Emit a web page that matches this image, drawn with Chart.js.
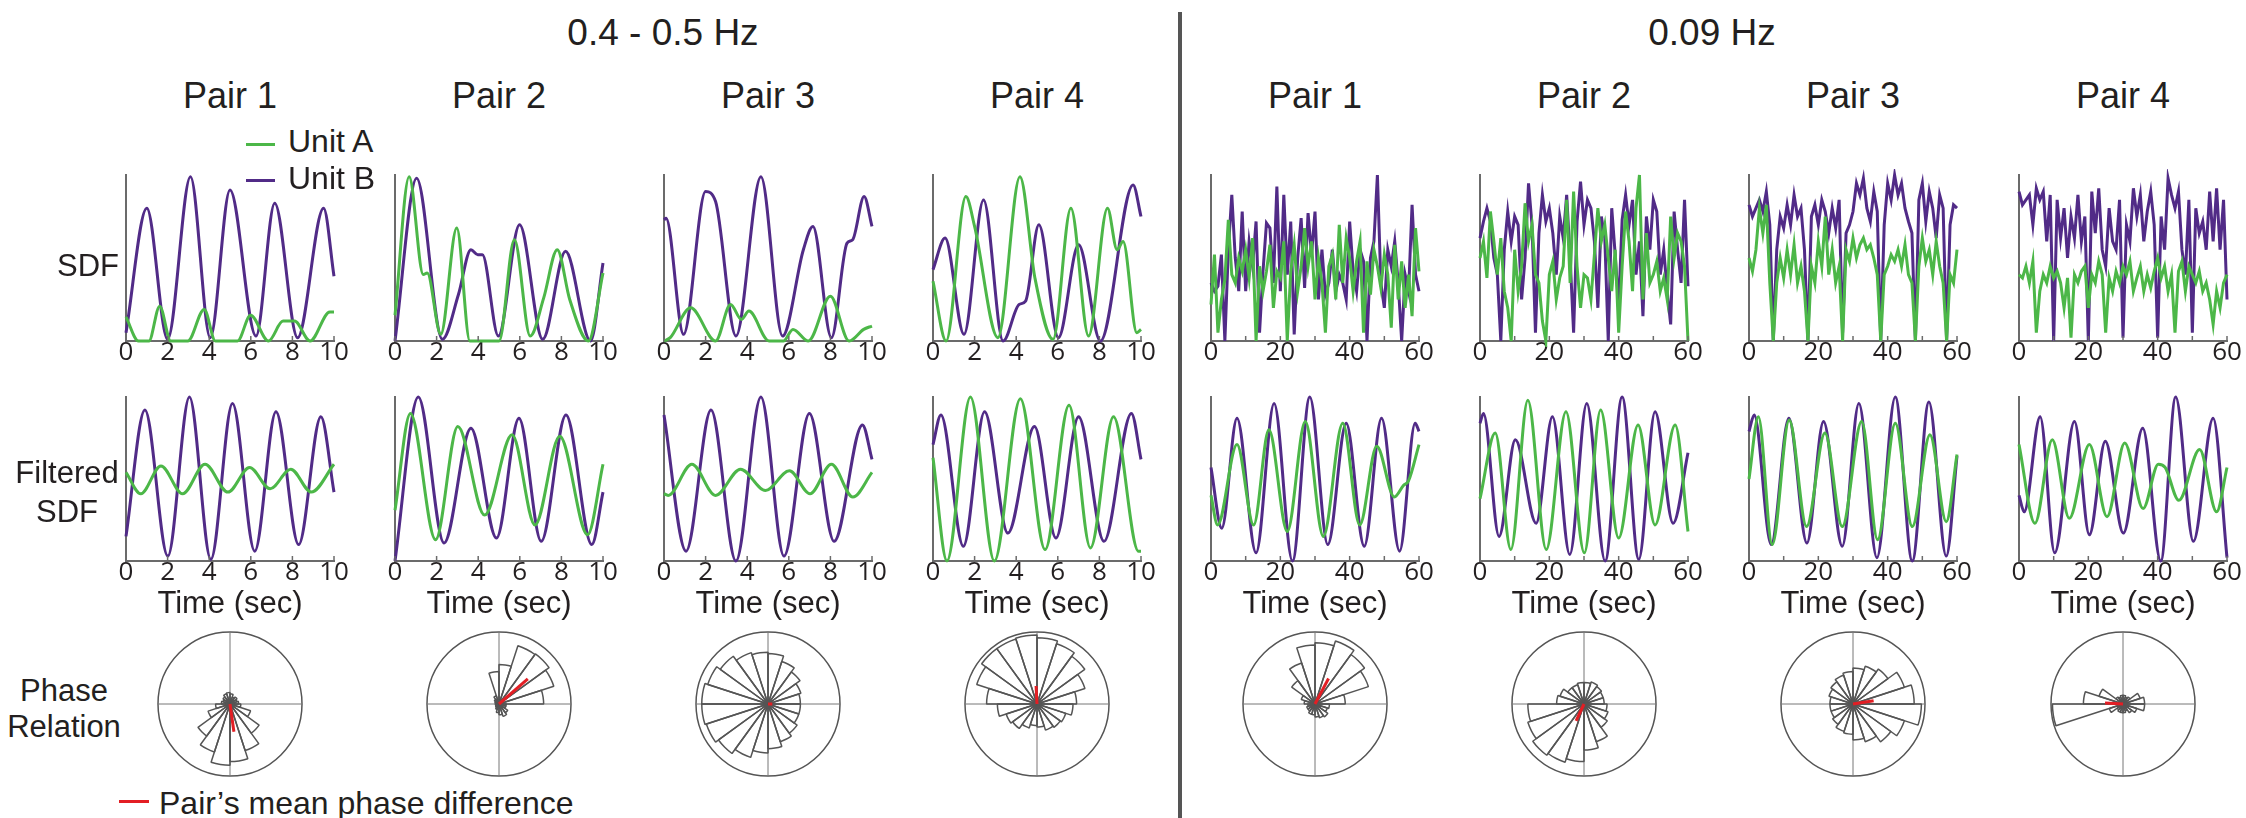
<!DOCTYPE html>
<html>
<head>
<meta charset="utf-8">
<script src="https://cdn.jsdelivr.net/npm/chart.js@4.4.1/dist/chart.umd.min.js"></script>
<style>
  body { margin: 0; background: #fff; }
  #fig { position: relative; width: 2246px; height: 818px; overflow: hidden;
         font-family: "Liberation Sans", Arial, sans-serif; color: #231f20; }
  .txt { position: absolute; white-space: nowrap; line-height: 1; }
  .box { position: absolute; }
</style>
</head>
<body>
<div id="fig"></div>
<script>
// ---- data: [time (s), normalised rate] ----
// 0.4 - 0.5 Hz, raw SDF
const sdfL1A = [[0,0.145],[0.6,0],[1.1,0],[1.62,0.21],[2.15,0],[2.97,0],[3.76,0.19],[4.3,0],[5.36,0],[5.99,0.155],[6.85,0],[7.55,0.12],[8.1,0.12],[8.85,0],[9.8,0.175],[10,0.175]];
const sdfL1B = [[0,0.05],[1.0,0.80],[2.0,0.01],[3.1,0.99],[4.05,0.02],[5.0,0.91],[6.25,0.03],[7.15,0.83],[8.25,0.02],[9.5,0.80],[10,0.39]];
const sdfL2A = [[0,0.155],[0.68,0.99],[1.36,0.40],[1.55,0.41],[2.2,0.04],[2.97,0.68],[3.6,0],[5.0,0],[5.74,0.61],[6.5,0.03],[7.15,0.26],[7.8,0.55],[8.4,0.25],[9.3,0],[10,0.41]];
const sdfL2B = [[0,0],[1.04,0.98],[2.28,0.01],[3.05,0.28],[3.65,0.55],[3.98,0.52],[4.2,0.52],[4.97,0.03],[5.99,0.70],[7.1,0.01],[8.2,0.54],[9.4,0],[10,0.47]];
const sdfL3A = [[0,0],[0.3,0.02],[1.28,0.20],[2.48,0],[3.2,0.22],[3.72,0.13],[4.08,0.18],[5.05,0],[5.74,0],[6.2,0.07],[6.94,0],[8.0,0.27],[8.9,0],[9.6,0.07],[10,0.09]];
const sdfL3B = [[0,0.73],[0.1,0.74],[0.94,0.04],[2.0,0.90],[2.48,0.84],[3.46,0.03],[4.66,0.99],[5.7,0.03],[6.7,0.55],[7.16,0.69],[8.05,0.02],[8.8,0.59],[9.07,0.61],[9.62,0.87],[10,0.69]];
const sdfL4A = [[0,0.36],[0.63,0],[1.58,0.87],[2.0,0.69],[3.12,0.02],[4.18,0.99],[4.9,0.38],[5.77,0.01],[6.63,0.80],[7.48,0.03],[8.39,0.80],[8.85,0.55],[9.14,0.60],[9.8,0.05],[10,0.07]];
const sdfL4B = [[0,0.43],[0.58,0.62],[1.49,0.04],[2.43,0.85],[3.37,0],[4.14,0.22],[4.45,0.24],[5.09,0.70],[6.03,0.02],[7.0,0.58],[8.05,0],[9.62,0.94],[10,0.75]];

// 0.4 - 0.5 Hz, filtered SDF
const filtL1A = [[0,0.54],[0.71,0.41],[1.68,0.58],[2.72,0.41],[3.8,0.59],[4.9,0.42],[5.94,0.57],[6.93,0.44],[7.92,0.56],[8.91,0.42],[10,0.59]];
const filtL1B = [[0,0.15],[0.91,0.92],[2.01,0.03],[3.05,1.0],[4.08,0.01],[5.12,0.96],[6.19,0.06],[7.21,0.91],[8.3,0.10],[9.37,0.88],[10,0.42]];
const filtL2A = [[0,0.31],[0.74,0.90],[1.95,0.13],[3.02,0.82],[4.31,0.28],[5.63,0.77],[6.73,0.22],[7.92,0.76],[9.26,0.16],[10,0.59]];
const filtL2B = [[0,0],[1.12,1.0],[2.36,0.11],[3.65,0.81],[4.88,0.14],[5.96,0.87],[7.03,0.12],[8.22,0.89],[9.46,0.10],[10,0.42]];
const filtL3A = [[0,0.41],[0.2,0.40],[1.34,0.59],[2.48,0.40],[3.68,0.56],[4.88,0.43],[6.03,0.55],[7.02,0.41],[8.05,0.59],[9.08,0.39],[10,0.54]];
const filtL3B = [[0,0.89],[1.06,0.06],[2.26,0.92],[3.46,0],[4.66,1.0],[5.77,0.03],[6.99,0.90],[8.18,0.12],[9.54,0.83],[10,0.62]];
const filtL4A = [[0,0.63],[0.67,0],[1.8,1.0],[2.95,0],[4.2,0.99],[5.39,0.07],[6.54,0.95],[7.57,0.08],[8.68,0.88],[9.88,0.06],[10,0.06]];
const filtL4B = [[0,0.71],[0.38,0.89],[1.46,0.09],[2.48,0.91],[3.6,0.17],[4.88,0.82],[5.91,0.14],[7.0,0.88],[8.22,0.12],[9.54,0.90],[10,0.62]];

// 0.09 Hz, raw SDF sampled each second
const secs60 = [0,1,2,3,4,5,6,7,8,9,10,11,12,13,14,15,16,17,18,19,20,21,22,23,24,25,26,27,28,29,30,31,32,33,34,35,36,37,38,39,40,41,42,43,44,45,46,47,48,49,50,51,52,53,54,55,56,57,58,59,60];
const sdfR1A = [0.22,0.52,0.05,0.25,0.37,0.73,0.40,0.35,0.50,0.42,0.55,0.38,0.62,0.0,0.45,0.30,0.42,0.58,0.20,0.42,0.38,0.60,0.0,0.42,0.58,0.30,0.45,0.68,0.45,0.60,0.25,0.50,0.35,0.05,0.45,0.52,0.25,0.70,0.35,0.62,0.50,0.30,0.48,0.60,0.05,0.48,0.28,0.55,0.45,0.32,0.52,0.40,0.08,0.58,0.25,0.48,0.20,0.40,0.15,0.68,0.42];
const sdfR1B = [0.35,0.30,0.33,0.52,0.0,0.55,0.88,0.50,0.30,0.78,0.30,0.60,0.45,0.72,0.05,0.42,0.71,0.68,0.35,0.93,0.30,0.88,0.40,0.72,0.04,0.50,0.74,0.32,0.77,0.52,0.78,0.25,0.55,0.28,0.35,0.55,0.30,0.40,0.35,0.25,0.72,0.42,0.30,0.55,0.48,0.0,0.50,0.60,1.0,0.35,0.20,0.55,0.45,0.60,0.35,0.0,0.40,0.30,0.82,0.40,0.30];
const sdfR2A = [0.50,0.60,0.38,0.78,0.60,0.40,0.62,0.30,0.20,0.0,0.55,0.30,0.45,0.83,0.60,0.70,0.40,0.35,0.12,0.0,0.40,0.48,0.25,0.38,0.45,0.85,0.35,0.90,0.45,0.20,0.40,0.38,0.25,0.52,0.80,0.60,0.70,0.50,0.30,0.55,0.05,0.45,0.78,0.60,0.30,0.80,1.0,0.25,0.65,0.35,0.40,0.48,0.30,0.38,0.25,0.75,0.50,0.65,0.60,0.45,0.0];
const sdfR2B = [0.62,0.72,0.80,0.72,0.50,0.40,0.0,0.55,0.78,0.60,0.75,0.70,0.25,0.50,0.95,0.70,0.05,0.65,0.88,0.72,0.80,0.65,0.40,0.75,0.62,0.88,0.50,0.05,0.72,0.96,0.70,0.85,0.80,0.60,0.20,0.75,0.62,0.0,0.80,0.52,0.20,0.73,0.88,0.70,0.85,0.40,0.60,0.15,0.75,0.55,0.85,0.78,0.40,0.55,0.30,0.10,0.78,0.55,0.35,0.85,0.33];
const sdfR3A = [0.50,0.42,0.55,0.80,0.65,0.82,0.35,0.0,0.35,0.50,0.38,0.55,0.40,0.58,0.35,0.45,0.30,0.0,0.45,0.35,0.60,0.45,0.75,0.40,0.55,0.35,0.45,0.0,0.55,0.48,0.62,0.50,0.58,0.62,0.55,0.58,0.50,0.40,0.0,0.40,0.45,0.52,0.48,0.55,0.45,0.58,0.40,0.35,0.0,0.45,0.62,0.48,0.55,0.40,0.60,0.45,0.35,0.0,0.40,0.35,0.55];
const sdfR3B = [0.82,0.75,0.80,0.85,0.78,0.90,0.70,0.0,0.55,0.75,0.68,0.82,0.70,0.88,0.75,0.80,0.55,0.0,0.75,0.82,0.70,0.85,0.78,0.65,0.80,0.68,0.85,0.05,0.65,0.70,0.78,0.95,0.88,0.98,0.80,0.72,0.90,0.78,0.0,0.70,0.95,0.85,1.0,0.88,0.95,0.80,0.72,0.65,0.0,0.85,0.95,0.72,0.90,0.80,0.62,0.88,0.80,0.0,0.70,0.82,0.80];
const sdfR4A = [0.40,0.38,0.45,0.35,0.48,0.05,0.30,0.40,0.35,0.45,0.38,0.42,0.35,0.20,0.38,0.02,0.40,0.35,0.42,0.45,0.20,0.40,0.35,0.48,0.40,0.05,0.38,0.30,0.42,0.35,0.45,0.40,0.48,0.30,0.38,0.45,0.30,0.40,0.32,0.42,0.50,0.38,0.45,0.30,0.40,0.05,0.42,0.48,0.30,0.45,0.40,0.35,0.42,0.30,0.35,0.25,0.10,0.30,0.20,0.35,0.40];
const sdfR4B = [0.90,0.82,0.85,0.88,0.70,0.92,0.85,0.90,0.60,0.88,0.0,0.85,0.62,0.80,0.50,0.75,0.62,0.88,0.60,0.75,0.0,0.90,0.65,0.92,0.55,0.45,0.80,0.60,0.55,0.85,0.02,0.70,0.60,0.92,0.75,0.88,0.60,0.78,0.90,0.70,0.02,0.75,0.55,0.98,0.88,0.80,0.90,0.55,0.40,0.85,0.05,0.80,0.65,0.72,0.55,0.90,0.60,0.92,0.55,0.85,0.25];

// 0.09 Hz, filtered SDF
const filtR1A = [[0,0.40],[1.9,0.22],[7.5,0.71],[12.3,0.22],[16.7,0.80],[22.0,0.18],[27.2,0.85],[32.4,0.15],[38.0,0.84],[42.9,0.22],[47.8,0.70],[52.9,0.39],[55.5,0.46],[57,0.49],[60,0.71]];
const filtR1B = [[0,0.57],[3.1,0.20],[7.5,0.87],[13.0,0.05],[18.2,0.96],[23.5,0],[28.5,1.0],[33.7,0.10],[39.0,0.84],[44.2,0.09],[49.2,0.87],[54.4,0.06],[58.9,0.84],[60,0.79]];
const filtR2A = [[0,0.38],[4.4,0.78],[8.9,0.07],[13.8,0.98],[19.1,0.07],[24.8,0.91],[30.1,0.05],[34.8,0.92],[40.0,0.14],[45.6,0.83],[50.5,0.22],[56.3,0.83],[60,0.18]];
const filtR2B = [[0,0.84],[1.0,0.90],[5.5,0.15],[10.2,0.74],[16.2,0.23],[20.9,0.88],[25.9,0.04],[30.8,0.96],[36.1,0],[41.0,1.0],[45.8,0.01],[50.5,0.91],[55.7,0.23],[60,0.66]];
const filtR3A = [[0,0.50],[2.7,0.88],[6.7,0.10],[11.6,0.86],[16.6,0.21],[21.9,0.78],[26.9,0.21],[32.5,0.85],[37.1,0.13],[42.2,0.84],[47.1,0.21],[52.2,0.77],[56.9,0.24],[60,0.65]];
const filtR3B = [[0,0.79],[1.5,0.89],[6.4,0.10],[11.5,0.87],[16.7,0.11],[21.5,0.85],[26.9,0.09],[31.7,0.96],[36.9,0.02],[42.2,1.0],[47.1,0],[51.9,0.97],[56.9,0.03],[60,0.64]];
const filtR4A = [[0,0.71],[4.6,0.23],[9.6,0.74],[14.5,0.26],[20.3,0.71],[25.4,0.27],[30.5,0.72],[35.8,0.32],[40.2,0.59],[42.2,0.57],[46.1,0.37],[52.1,0.68],[57.0,0.30],[60,0.57]];
const filtR4B = [[0,0.40],[1.5,0.30],[6.1,0.88],[10.3,0.05],[16.0,0.85],[20.3,0.16],[24.9,0.73],[30.1,0.17],[35.7,0.81],[40.9,0],[45.2,1.0],[50.3,0.12],[56.0,0.87],[60,0.02]];

// phase histograms: 20 bins of 18 deg, counter-clockwise from 0 deg (east)
const roseL1 = [0.12,0.10,0.12,0.10,0.14,0.16,0.15,0.12,0.10,0.12,0.20,0.32,0.55,0.70,0.85,0.80,0.68,0.50,0.30,0.15];
const roseL2 = [0.62,0.80,0.86,0.85,0.55,0.45,0.12,0.08,0.06,0.05,0.05,0.05,0.06,0.08,0.12,0.15,0.18,0.15,0.10,0.10];
const roseL3 = [0.45,0.48,0.55,0.62,0.70,0.72,0.75,0.82,0.88,0.92,0.92,0.90,0.85,0.78,0.68,0.62,0.55,0.50,0.45,0.45];
const roseL4 = [0.55,0.70,0.82,0.88,0.92,0.96,0.95,0.95,0.88,0.70,0.55,0.45,0.42,0.35,0.30,0.32,0.38,0.40,0.42,0.50];
const roseR1 = [0.42,0.78,0.85,0.92,0.85,0.82,0.60,0.40,0.20,0.15,0.10,0.12,0.12,0.15,0.15,0.18,0.20,0.22,0.18,0.20];
const roseR2 = [0.28,0.28,0.30,0.32,0.30,0.30,0.28,0.28,0.35,0.38,0.78,0.82,0.88,0.85,0.80,0.64,0.55,0.40,0.35,0.32];
const roseR3 = [0.85,0.75,0.60,0.55,0.50,0.45,0.42,0.38,0.35,0.32,0.32,0.32,0.35,0.40,0.42,0.50,0.55,0.65,0.75,0.95];
const roseR4 = [0.30,0.25,0.12,0.10,0.12,0.12,0.10,0.12,0.35,0.55,0.98,0.20,0.10,0.12,0.12,0.12,0.10,0.15,0.20,0.30];
// mean phase difference: angle (deg, ccw from east) and resultant length
const meanAngle = [278, 41, 0, 93, 62, 245, 9, 177];
const meanLength = [0.39, 0.53, 0.06, 0.25, 0.40, 0.26, 0.29, 0.25];

const pairNames = ['Pair 1', 'Pair 2', 'Pair 3', 'Pair 4'];
const leftTicks = [0, 2, 4, 6, 8, 10];
const rightTicks = [0, 20, 40, 60];

// ---- styling / layout ----
const green = '#4cb748', purple = '#512b87', red = '#e31e24';
const axisGray = '#6b6b6b', roseGray = '#555555', ink = '#231f20';
const tickFont = '"Open Sans", sans-serif';
const fig = document.getElementById('fig');
const leftAxisX = [126, 395, 664, 933];
const rightAxisX = [1211, 1480, 1749, 2019];
const plotW = 208;
const rowTop = [175, 397], rowH = [166, 164];
const roseY = 704;

function addText(str, x, y, size, align) {
  const d = document.createElement('div');
  d.className = 'txt';
  d.textContent = str;
  d.style.left = x + 'px';
  d.style.top = y + 'px';
  d.style.fontSize = size + 'px';
  const tx = align === 'left' ? '0' : align === 'right' ? '-100%' : '-50%';
  d.style.transform = 'translate(' + tx + ',-50%)';
  fig.appendChild(d);
}
function addBar(x, y, w, h, color) {
  const d = document.createElement('div');
  d.className = 'box';
  Object.assign(d.style, { left: x + 'px', top: y + 'px', width: w + 'px', height: h + 'px', background: color });
  fig.appendChild(d);
}

const innerTicks = {
  id: 'innerTicks',
  afterDraw(chart) {
    const xs = chart.scales.x, ctx = chart.ctx, b = chart.chartArea.bottom;
    ctx.save();
    ctx.strokeStyle = axisGray;
    ctx.lineWidth = 1.5;
    xs.ticks.forEach(t => {
      const px = xs.getPixelForValue(t.value);
      ctx.beginPath();
      ctx.moveTo(px, b);
      ctx.lineTo(px, b - 5);
      ctx.stroke();
    });
    ctx.restore();
  }
};

function lineChart(x0, top, h, xMax, step, labels, series, smooth) {
  const padL = 30, padR = 30, padT = 8, axisH = 40;
  const div = document.createElement('div');
  div.className = 'box';
  div.style.left = (x0 - padL) + 'px';
  div.style.top = (top - padT) + 'px';
  div.style.width = (plotW + padL + padR) + 'px';
  div.style.height = (h + padT + axisH) + 'px';
  const cv = document.createElement('canvas');
  div.appendChild(cv);
  fig.appendChild(div);
  new Chart(cv, {
    type: 'line',
    data: {
      datasets: series.map(s => ({
        data: s.pts,
        borderColor: s.color,
        borderWidth: 3,
        pointRadius: 0,
        tension: 0,
        cubicInterpolationMode: smooth ? 'monotone' : 'default',
        clip: 6
      }))
    },
    options: {
      responsive: true,
      maintainAspectRatio: false,
      animation: false,
      events: [],
      layout: { padding: { left: padL, right: padR, top: padT, bottom: 0 } },
      plugins: { legend: { display: false }, tooltip: { enabled: false } },
      scales: {
        x: {
          type: 'linear', min: 0, max: xMax,
          grid: { display: false, drawTicks: false },
          border: { color: axisGray, width: 2 },
          ticks: {
            stepSize: step, autoSkip: false, maxRotation: 0, padding: -4,
            color: ink, font: { family: tickFont, size: 26 },
            callback: v => labels.includes(v) ? String(v) : ''
          },
          afterFit: s => { s.height = axisH; s.paddingLeft = 0; s.paddingRight = 0; }
        },
        y: {
          min: 0, max: 1,
          ticks: { display: false },
          grid: { display: false, drawTicks: false },
          border: { color: axisGray, width: 2 },
          afterFit: s => { s.width = 0; }
        }
      }
    },
    plugins: [innerTicks]
  });
}

function pairs(arr) { return arr.map(p => ({ x: p[0], y: p[1] })); }
function sampled(ts, vs) { return ts.map((t, i) => ({ x: t, y: vs[i] })); }

function rose(cx, bins, angleDeg, len) {
  const size = 150;
  const div = document.createElement('div');
  div.className = 'box';
  Object.assign(div.style, { left: (cx - size / 2) + 'px', top: (roseY - size / 2) + 'px', width: size + 'px', height: size + 'px' });
  const cv = document.createElement('canvas');
  div.appendChild(cv);
  fig.appendChild(div);
  // chart.js walks clockwise from east when startAngle is 90
  const clockwise = bins.slice().reverse();
  const extras = {
    id: 'roseExtras',
    beforeDatasetsDraw(chart) {
      const r = chart.scales.r, ctx = chart.ctx, R = r.drawingArea;
      ctx.save();
      ctx.strokeStyle = '#777';
      ctx.lineWidth = 1;
      ctx.beginPath();
      ctx.moveTo(r.xCenter - R, r.yCenter); ctx.lineTo(r.xCenter + R, r.yCenter);
      ctx.moveTo(r.xCenter, r.yCenter - R); ctx.lineTo(r.xCenter, r.yCenter + R);
      ctx.stroke();
      ctx.restore();
    },
    afterDatasetsDraw(chart) {
      const r = chart.scales.r, ctx = chart.ctx;
      const d = r.getDistanceFromCenterForValue(len);
      const a = angleDeg * Math.PI / 180;
      ctx.save();
      ctx.strokeStyle = red;
      ctx.lineWidth = 3;
      ctx.beginPath();
      ctx.moveTo(r.xCenter, r.yCenter);
      ctx.lineTo(r.xCenter + d * Math.cos(a), r.yCenter - d * Math.sin(a));
      ctx.stroke();
      ctx.restore();
    }
  };
  new Chart(cv, {
    type: 'polarArea',
    data: {
      labels: clockwise.map((_, i) => i),
      datasets: [{ data: clockwise, backgroundColor: 'rgba(0,0,0,0)', borderColor: roseGray, borderWidth: 1.5 }]
    },
    options: {
      responsive: true,
      maintainAspectRatio: false,
      animation: false,
      events: [],
      layout: { padding: 3 },
      plugins: { legend: { display: false }, tooltip: { enabled: false } },
      scales: {
        r: {
          min: 0, max: 1, startAngle: 90,
          ticks: { display: false, stepSize: 1 },
          grid: { color: roseGray, lineWidth: 1.5 },
          angleLines: { display: false },
          pointLabels: { display: false }
        }
      }
    },
    plugins: [extras]
  });
}

// ---- build the figure ----
const sdfLeft = [[sdfL1A, sdfL1B], [sdfL2A, sdfL2B], [sdfL3A, sdfL3B], [sdfL4A, sdfL4B]];
const filtLeft = [[filtL1A, filtL1B], [filtL2A, filtL2B], [filtL3A, filtL3B], [filtL4A, filtL4B]];
const sdfRight = [[sdfR1A, sdfR1B], [sdfR2A, sdfR2B], [sdfR3A, sdfR3B], [sdfR4A, sdfR4B]];
const filtRight = [[filtR1A, filtR1B], [filtR2A, filtR2B], [filtR3A, filtR3B], [filtR4A, filtR4B]];
const rosesLeft = [roseL1, roseL2, roseL3, roseL4];
const rosesRight = [roseR1, roseR2, roseR3, roseR4];

leftAxisX.forEach((x0, i) => {
  lineChart(x0, rowTop[0], rowH[0], 10, 2, leftTicks,
    [{ pts: pairs(sdfLeft[i][0]), color: green }, { pts: pairs(sdfLeft[i][1]), color: purple }], true);
  lineChart(x0, rowTop[1], rowH[1], 10, 2, leftTicks,
    [{ pts: pairs(filtLeft[i][0]), color: green }, { pts: pairs(filtLeft[i][1]), color: purple }], true);
  rose(x0 + plotW / 2, rosesLeft[i], meanAngle[i], meanLength[i]);
  addText(pairNames[i], x0 + plotW / 2, 96, 36);
  addText('Time (sec)', x0 + plotW / 2, 602, 31);
});
rightAxisX.forEach((x0, i) => {
  lineChart(x0, rowTop[0], rowH[0], 60, 10, rightTicks,
    [{ pts: sampled(secs60, sdfRight[i][0]), color: green }, { pts: sampled(secs60, sdfRight[i][1]), color: purple }], false);
  lineChart(x0, rowTop[1], rowH[1], 60, 10, rightTicks,
    [{ pts: pairs(filtRight[i][0]), color: green }, { pts: pairs(filtRight[i][1]), color: purple }], true);
  rose(x0 + plotW / 2, rosesRight[i], meanAngle[i + 4], meanLength[i + 4]);
  addText(pairNames[i], x0 + plotW / 2, 96, 36);
  addText('Time (sec)', x0 + plotW / 2, 602, 31);
});

addText('0.4 - 0.5 Hz', 663, 32, 37);
addText('0.09 Hz', 1712, 32, 37);
addBar(1178, 12, 4, 806, '#555');

addBar(246, 143, 29, 3, green);
addText('Unit A', 288, 141, 32, 'left');
addBar(246, 179, 29, 3, purple);
addText('Unit B', 288, 178, 32, 'left');

addText('SDF', 119, 265, 31, 'right');
addText('Filtered', 67, 472, 31);
addText('SDF', 67, 511, 31);
addText('Phase', 64, 690, 31);
addText('Relation', 64, 726, 31);

addBar(119, 800, 30, 3, red);
addText('Pair\u2019s mean phase difference', 159, 803, 32, 'left');
</script>
</body>
</html>
